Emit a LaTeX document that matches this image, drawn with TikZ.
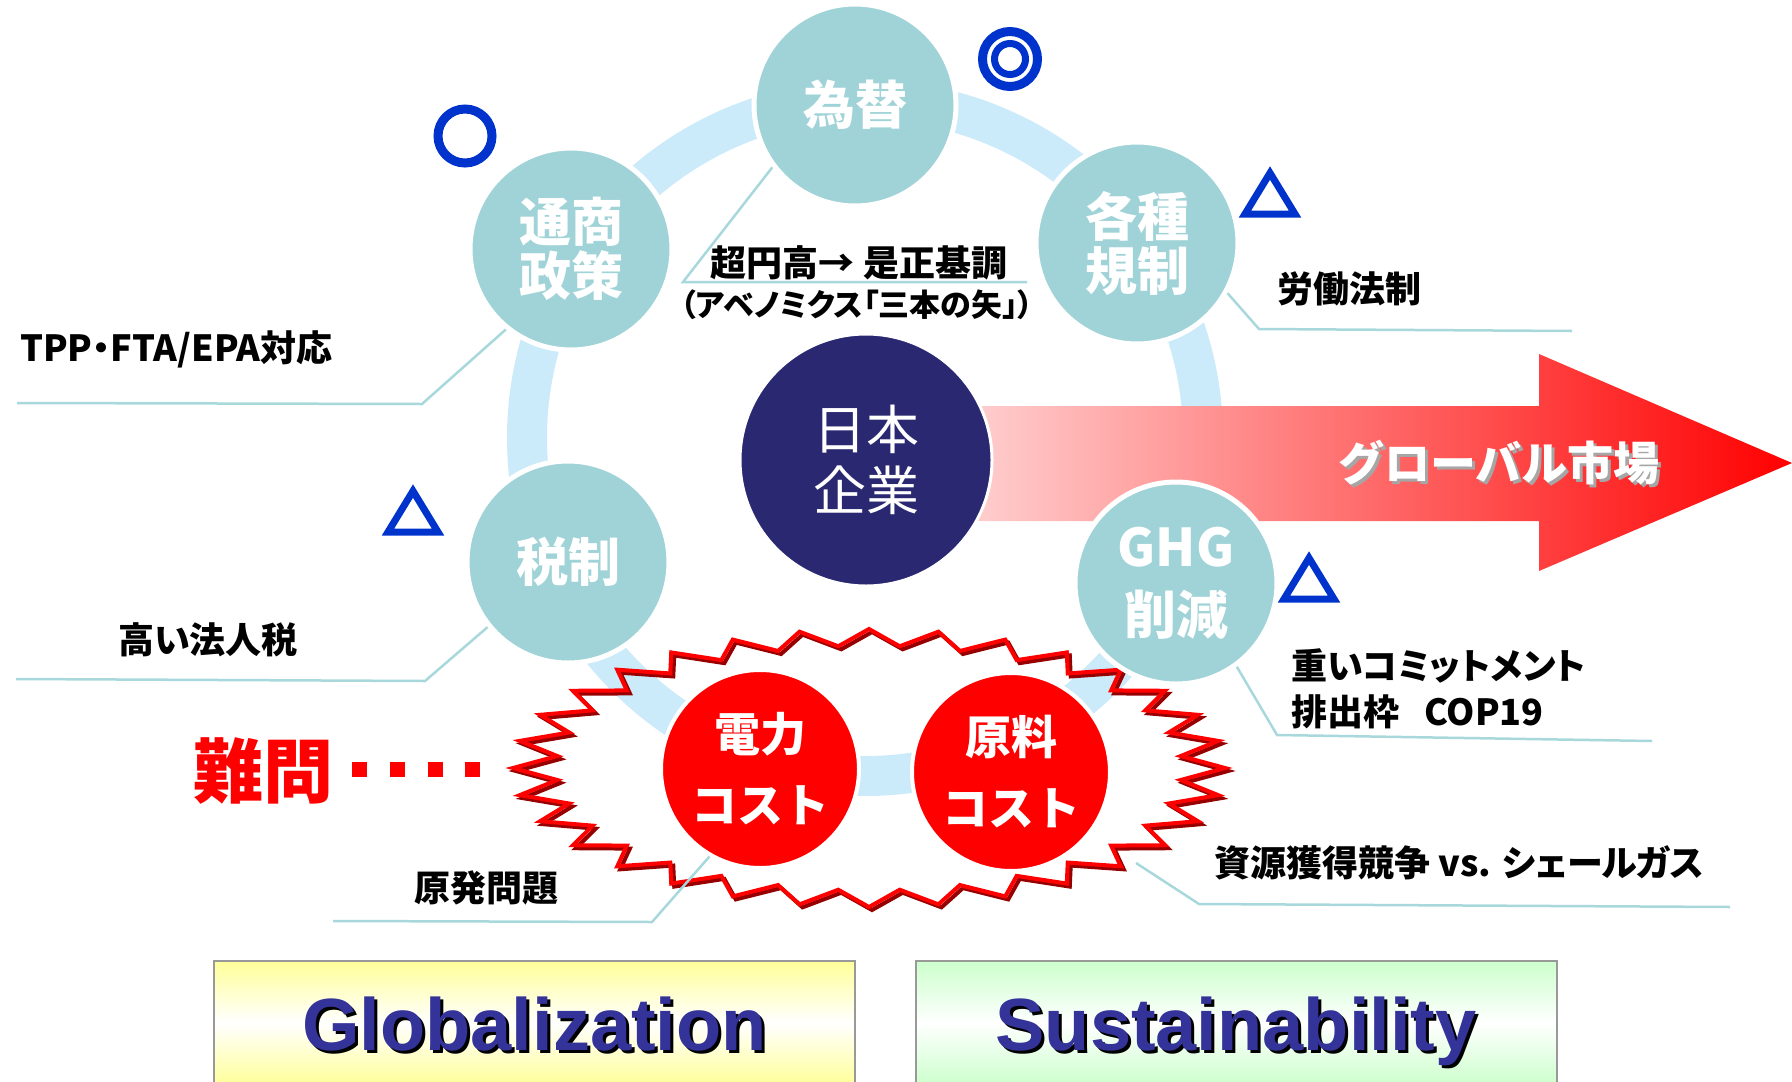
\documentclass[tikz,border=0pt]{standalone}
\usepackage{fontspec}
\setmainfont{Liberation Sans}
\newfontfamily\jp{Noto Sans CJK JP}
\newfontfamily\jpp[RawFeature=+palt]{Noto Sans CJK JP}
\definecolor{tealbg}{RGB}{160,211,215}
\definecolor{ringblue}{RGB}{204,235,250}
\definecolor{navycore}{RGB}{41,40,113}
\definecolor{leadline}{RGB}{168,216,220}
\definecolor{gradeblue}{RGB}{0,51,204}
\definecolor{boxnavy}{RGB}{51,51,153}
\definecolor{lightyellow}{RGB}{255,255,153}
\definecolor{lightgreen}{RGB}{204,255,204}
\definecolor{burstdark}{RGB}{150,0,0}

\begin{document}
\begin{tikzpicture}[x=1pt, y=-1pt,
  topic/.style = {circle, draw=white, line width=5pt, fill=tealbg, minimum size=202pt, inner sep=0pt, align=center, text=white, font=\jp\bfseries\fontsize{52}{54}\selectfont},
  core/.style = {circle, draw=white, line width=3pt, fill=navycore, minimum size=252pt, inner sep=0pt, align=center, text=white, font=\jp\fontsize{53}{61}\selectfont},
  cost/.style = {circle, draw=white, line width=4pt, fill=red, minimum size=198pt, inner sep=0pt, align=center, text=white, font=\jp\bfseries\fontsize{46}{71}\selectfont},
  note/.style = {anchor=west, inner sep=0pt, align=left, font=\jpp\bfseries\fontsize{36}{46}\selectfont},
  lead/.style = {draw=leadline, line width=2.5pt},
  grade/.style = {draw=gradeblue, line width=9pt},
  tri/.style = {draw=gradeblue, line width=7pt, line join=miter},
  burst/.style = {draw=red, line width=4pt, line join=miter},
  box/.style = {draw=gray!80, line width=2pt, minimum width=641pt, minimum height=124pt, inner sep=0pt},
  headline/.style = {inner sep=0pt, anchor=base, text=boxnavy, font=\bfseries\fontsize{74}{80}\selectfont}]
  \useasboundingbox (0,0) rectangle (1792,1082);

  % ring behind the topics
  \draw[ringblue, line width=40pt] (865,438) circle[radius=338];

  % burst round the two costs
  \draw[burst, burstdark, shift={(3,3)}] plot[domain=0:63, samples=64, variable=\t]
    ({869+356*(1-0.12*mod(round(\t),2))*cos(5.625*\t)}, {768+139*(1-0.12*mod(round(\t),2))*sin(5.625*\t)}) -- cycle;
  \draw[burst] plot[domain=0:63, samples=64, variable=\t]
    ({869+356*(1-0.12*mod(round(\t),2))*cos(5.625*\t)}, {768+139*(1-0.12*mod(round(\t),2))*sin(5.625*\t)}) -- cycle;

  % arrow to the market
  \shade[left color=red!8, middle color=red!42, right color=red]
    (860,406) -- (1539,406) -- (1539,354) -- (1792,463) -- (1539,571) -- (1539,521) -- (860,521) -- cycle;
  \node[text=gray!70, font=\jp\bfseries\fontsize{46}{50}\selectfont] at (1502,466) {グローバル市場};
  \node[text=white, font=\jp\bfseries\fontsize{46}{50}\selectfont] (market) at (1499,463) {グローバル市場};

  \node[topic] (kawase) at (855,105) {為替};
  \node[topic] (tsusho) at (571,249) {通商\\政策};
  \node[topic] (kakushu) at (1137,243) {各種\\規制};
  \node[topic] (zeisei) at (568,562) {税制};
  \node[topic] (ghg) at (1176,583) {GHG\\[14pt]削減};
  \node[core] (nihon) at (866,460) {日本\\企業};
  \node[cost] (denryoku) at (760,769) {電力\\コスト};
  \node[cost] (genryo) at (1011,772) {原料\\コスト};

  % notes and their leads
  \coordinate (yenBend) at (683,282);   \coordinate (yenEnd) at (1027,282);
  \coordinate (tppBend) at (422,404);   \coordinate (tppEnd) at (17,403);
  \coordinate (laborBend) at (1259,329); \coordinate (laborEnd) at (1572,331);
  \coordinate (taxBend) at (425,681);   \coordinate (taxEnd) at (16,679);
  \coordinate (nukeBend) at (652,922);  \coordinate (nukeEnd) at (333,921);
  \coordinate (ghgBend) at (1277,735);  \coordinate (ghgEnd) at (1652,741);
  \coordinate (resStart) at (1136,863); \coordinate (resBend) at (1199,904); \coordinate (resEnd) at (1730,907);
  \draw[lead] (kawase.217) -- (yenBend) -- (yenEnd);
  \draw[lead] (tsusho.231) -- (tppBend) -- (tppEnd);
  \draw[lead] (kakushu.331) -- (laborBend) -- (laborEnd);
  \draw[lead] (zeisei.219) -- (taxBend) -- (taxEnd);
  \draw[lead] (denryoku.240) -- (nukeBend) -- (nukeEnd);
  \draw[lead] (ghg.306) -- (ghgBend) -- (ghgEnd);
  \draw[lead] (resStart) -- (resBend) -- (resEnd);

  \node[note, anchor=center] (noteYen) at (859,263) {超円高→ 是正基調};
  \node[note, anchor=center, font=\jpp\bfseries\fontsize{31}{36}\selectfont] (noteAbe) at (857,305) {（アベノミクス「三本の矢」）};
  \node[note] (noteTpp) at (20,349) {TPP・FTA/EPA対応};
  \node[note] (noteLabor) at (1277,289) {労働法制};
  \node[note] (noteTax) at (118,640) {高い法人税};
  \node[note] (noteNuke) at (414,888) {原発問題};
  \node[note] (noteGhg) at (1291,689) {重いコミットメント\\排出枠\hspace{0.7em}COP19};
  \node[note] (noteRes) at (1214,863) {資源獲得競争 vs. シェールガス};

  % grades
  \draw[grade] (465,136) circle[radius=27];
  \draw[grade] (1010,59) circle[radius=27.5];
  \draw[grade, line width=7pt] (1010,59) circle[radius=15.5];
  \foreach \cx/\cy in {1270/193, 413/511, 1309/578}
    \draw[tri] (\cx,\cy-20) -- (\cx-25,\cy+21) -- (\cx+25,\cy+21) -- cycle;

  % hard problems
  \node[inner sep=0pt, text=red, font=\jp\bfseries\fontsize{70}{70}\selectfont] (nanmon) at (263,771) {難問};
  \foreach \sx in {359,397,435,472}
    \fill[red] (\sx-7.5,762) rectangle ++(15,15);

  % bottom boxes
  \node[box, top color=lightyellow, bottom color=lightyellow, middle color=white] (glob) at (534.5,1023) {};
  \node[headline, text=black] at ([shift={(3,30)}]glob.center) {Globalization};
  \node[headline] (globText) at ([shift={(0,27)}]glob.center) {Globalization};
  \node[box, top color=lightgreen, bottom color=lightgreen, middle color=white] (sust) at (1236,1023) {};
  \node[headline, text=black] at ([shift={(3,30)}]sust.center) {Sustainability};
  \node[headline] (sustText) at ([shift={(0,27)}]sust.center) {Sustainability};
\end{tikzpicture}
\end{document}
